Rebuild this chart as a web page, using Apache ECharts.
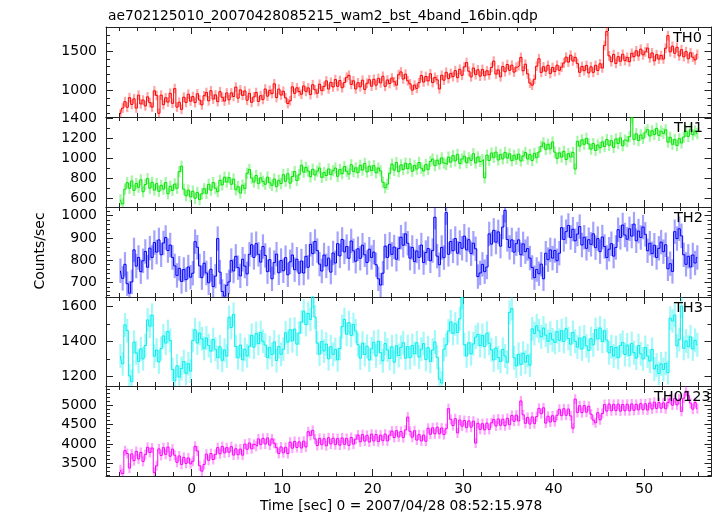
<!DOCTYPE html>
<html><head><meta charset="utf-8">
<script src="https://cdn.jsdelivr.net/npm/echarts@6/dist/echarts.min.js"></script>
<style>html,body{margin:0;padding:0;background:#fff}#c{width:717px;height:516px}</style>
</head><body><div id="c"></div>
<script>
// ---- data (0.25 s bins starting at t = -8 s) ----
const binStart = -8, binWidth = 0.25;
const panelNames = ['TH0', 'TH1', 'TH2', 'TH3', 'TH0123'];
const th0 = [
690,768,851,779,902,815,887,768,934,822,871,796,912,838,781,989,
931,702,934,812,901,846,958,829,1018,781,843,752,908,841,946,857,
916,838,952,871,809,927,968,862,991,884,937,851,978,906,859,962,
874,963,917,1037,896,1002,931,988,869,957,842,911,968,853,927,879,
1013,921,996,954,1079,903,1012,936,984,899,827,862,1041,957,1028,981,
946,1052,983,1027,941,1068,1003,958,1074,992,1046,1117,1013,1098,1039,1134,
1047,1121,1029,1096,1163,1189,1072,1118,1014,1093,1041,1126,1008,1087,1132,1049,
1138,1062,1149,1091,1176,1047,1129,1083,1154,1106,1063,1197,1232,1141,1203,1118,
1079,998,1063,1021,1094,1186,1102,1173,1117,1208,1095,1162,1131,1014,1189,1126,
1227,1146,1213,1172,1249,1158,1266,1189,1297,1352,1241,1168,1282,1197,1259,1178,
1264,1183,1246,1196,1289,1371,1205,1258,1169,1301,1234,1327,1252,1318,1229,1293,
1312,1418,1246,1331,1207,1089,1062,1138,1305,1401,1226,1298,1242,1317,1211,1289,
1236,1318,1253,1294,1346,1421,1358,1447,1372,1419,1338,1227,1302,1248,1315,1219,
1298,1226,1317,1251,1336,1283,1571,1752,1438,1362,1456,1341,1427,1369,1458,1378,
1419,1363,1471,1428,1503,1436,1524,1451,1489,1538,1412,1476,1374,1453,1397,1442,
1398,1536,1697,1489,1562,1471,1549,1437,1518,1426,1493,1402,1478,1421,1386,1457];
const th1 = [
588,547,693,758,702,774,681,749,712,786,667,739,798,703,761,684,
748,672,731,694,759,648,722,681,744,702,867,921,693,628,684,617,
673,602,661,589,648,697,652,741,683,759,702,668,781,736,812,764,
809,742,793,687,718,654,732,698,851,889,803,764,829,748,806,771,
742,813,756,731,794,718,782,749,837,771,846,752,819,868,779,836,
931,862,908,873,816,891,834,872,903,811,857,829,894,838,876,903,
821,889,847,918,871,842,936,868,905,857,931,883,949,864,921,878,
927,856,903,874,762,708,743,851,942,881,958,867,934,889,951,897,
946,871,929,893,958,902,874,937,889,968,992,927,981,943,1004,952,
938,1012,961,1027,974,1039,948,992,1021,956,1004,979,1046,953,1013,968,
987,806,1031,978,1052,1009,1061,983,1037,994,1058,1002,1044,976,1029,991,
1041,974,1022,1057,993,1036,978,1049,1006,1062,1117,1153,1088,1139,1094,1162,
1061,998,1054,1012,1069,987,1046,1013,1058,893,1168,1121,1183,1139,1197,1142,
1091,1146,1078,1132,1104,1163,1117,1186,1129,1175,1108,1192,1147,1203,1124,1181,
1166,1214,1402,1187,1243,1176,1232,1198,1259,1284,1221,1273,1236,1297,1228,1268,
1247,1283,1161,1208,1139,1187,1126,1194,1152,1211,1268,1217,1289,1234,1271,1246];
const th2 = [
752,718,781,694,651,702,846,773,812,748,797,839,768,854,812,879,
836,891,824,877,902,843,868,812,774,731,763,704,758,712,769,723,
741,883,858,774,721,786,742,698,759,681,728,897,746,659,638,687,
702,798,751,817,766,729,804,773,738,826,869,812,874,826,791,861,
821,748,802,716,789,827,743,798,752,811,734,792,823,757,804,741,
796,742,817,768,871,829,884,843,782,751,823,774,809,746,832,787,
874,819,893,837,861,808,886,842,795,851,808,867,824,789,849,812,
836,779,716,688,741,863,812,871,826,859,804,852,903,867,918,876,
809,857,793,841,812,868,789,834,852,797,843,993,818,779,857,811,
1014,826,884,842,897,831,879,853,908,846,892,829,876,851,726,742,
781,748,769,918,872,934,881,927,863,949,1024,893,857,891,836,874,
891,824,873,838,852,809,767,721,758,739,782,716,831,802,846,809,
843,797,831,946,893,928,956,902,939,887,917,951,868,903,853,892,
871,918,856,897,838,904,861,812,849,874,818,857,937,902,958,913,
894,941,908,962,887,931,902,949,916,842,876,829,867,812,853,881,
838,869,761,784,749,928,897,941,909,824,781,817,769,823,787,812];
const th3 = [
1318,1274,1496,1463,1205,1172,1397,1336,1287,1359,1302,1378,1524,1489,1551,1317,
1352,1284,1361,1433,1392,1458,1407,1241,1176,1262,1198,1247,1286,1219,1274,1232,
1407,1468,1392,1449,1416,1362,1421,1378,1346,1412,1357,1309,1371,1294,1352,1318,
1539,1481,1556,1372,1308,1381,1297,1356,1319,1374,1436,1368,1447,1389,1452,1402,
1381,1309,1366,1326,1398,1292,1373,1328,1357,1451,1397,1468,1405,1472,1386,1449,
1512,1574,1498,1561,1527,1658,1541,1392,1329,1401,1347,1386,1302,1371,1328,1356,
1297,1361,1486,1527,1442,1509,1436,1498,1461,1383,1306,1392,1327,1374,1296,1359,
1396,1318,1402,1337,1291,1389,1352,1304,1371,1283,1377,1321,1368,1394,1306,1372,
1309,1378,1331,1394,1312,1357,1389,1298,1366,1287,1352,1398,1311,1186,1164,1357,
1382,1461,1513,1447,1502,1452,1531,1652,1383,1318,1394,1331,1387,1426,1441,1378,
1436,1372,1448,1391,1353,1296,1364,1309,1287,1356,1318,1282,1567,1589,1308,1262,
1328,1271,1334,1283,1321,1266,1473,1446,1491,1462,1427,1478,1437,1402,1448,1411,
1396,1457,1408,1463,1401,1474,1418,1386,1453,1402,1369,1421,1358,1428,1376,1349,
1417,1382,1469,1416,1478,1401,1462,1409,1336,1372,1318,1367,1309,1378,1396,1327,
1381,1322,1389,1337,1306,1378,1331,1302,1367,1318,1289,1356,1244,1267,1218,1273,
1241,1276,1223,1534,1518,1552,1376,1412,1603,1362,1404,1371,1428,1358,1407,1382];
const th0123 = [
3331,3236,3824,3752,3378,3741,3569,3806,3612,3779,3548,3724,3912,3778,3893,3262,
3436,3871,3702,3902,3731,3917,3682,3864,3708,3524,3689,3471,3652,3498,3637,3489,
3552,3937,3816,3438,3297,3471,3736,3576,3751,3598,3728,3903,3742,3931,3768,3902,
3786,3928,3712,3874,3721,3866,3709,3992,3861,4023,3874,3987,3936,4128,3981,4142,
3997,4152,3968,4127,4014,3902,3754,3921,3768,3912,3751,4043,3889,4062,3906,4051,
3893,4068,3921,4312,4219,4347,4128,3957,4142,3979,4131,3952,4158,3996,4147,3978,
4136,3968,4152,3987,4139,3961,4164,3993,4121,4227,4054,4238,4071,4219,4048,4251,
4073,4239,4058,4226,4082,4251,4076,4224,4327,4163,4339,4178,4321,4161,4358,4689,
4323,4172,4337,4098,4238,4074,4226,4067,4402,4246,4413,4257,4428,4259,4407,4238,
4391,4907,4632,4471,4647,4283,4614,4456,4601,4418,4591,4429,4584,4021,4531,4372,
4519,4361,4532,4374,4541,4624,4461,4641,4478,4633,4466,4657,4493,4731,4581,4739,
4589,5104,4748,4529,4681,4511,4692,4521,4701,4914,4776,4928,4534,4711,4561,4724,
4571,4736,4889,4726,4903,4737,4896,4719,4402,5152,4808,4981,4803,4985,4814,4969,
4764,4611,4542,4801,4619,4782,5011,4843,5024,4851,5016,4858,5021,4843,5012,4854,
5019,4851,5027,4863,5016,4875,5034,4878,5031,4869,5052,4898,5071,4912,5062,4918,
5054,4903,5066,5156,4996,5169,5004,5152,4838,5174,5352,5241,5049,4894,5064,4906];
// typical 1-sigma error per band (counts/sec)
const bandErrors = [62, 56, 55, 68, 128];

// ---- axes / ticks ----
const xRange = [-9.47, 57.44];
const xMajorTicks = [0, 10, 20, 30, 40, 50];
const xMinorTicks = [-8,-6,-4,-2,2,4,6,8,12,14,16,18,22,24,26,28,32,34,36,38,42,44,46,48,52,54,56];
const yRanges = [[654, 1808], [516, 1410], [634, 1039], [1147, 1655], [3173, 5489]];
const th0Major = [1000, 1500];
const th0Minor = [700, 800, 900, 1100, 1200, 1300, 1400, 1600, 1700, 1800];
const th1Major = [600, 800, 1000, 1200, 1400];
const th1Minor = [700, 900, 1100, 1300];
const th2Major = [700, 800, 900, 1000];
const th2Minor = [640,660,680,720,740,760,780,820,840,860,880,920,940,960,980,1020];
const th3Major = [1200, 1400, 1600];
const th3Minor = [1300, 1500];
const th0123Major = [3500, 4000, 4500, 5000];
const th0123Minor = [3200,3300,3400,3600,3700,3800,3900,4100,4200,4300,4400,4600,4700,4800,4900,5100,5200,5300,5400];

const titleText = 'ae702125010_20070428085215_wam2_bst_4band_16bin.qdp';
const xLabelText = 'Time [sec] 0 = 2007/04/28 08:52:15.978';
const yLabelText = 'Counts/sec';

// ---- build ----
const FONT = '"DejaVu Sans", sans-serif';
const AX = '#222';
const panels = [
  {values: th0, major: th0Major, minor: th0Minor, color: '#ff0000'},
  {values: th1, major: th1Major, minor: th1Minor, color: '#00e600'},
  {values: th2, major: th2Major, minor: th2Minor, color: '#0000ff'},
  {values: th3, major: th3Major, minor: th3Minor, color: '#00eeee'},
  {values: th0123, major: th0123Major, minor: th0123Minor, color: '#ff00ff'}
];
const gridTops = [27, 117, 207, 297, 386];
const gridHeights = [90, 90, 90, 89, 90];
const labelX = [673, 674, 674, 674, 654];

const grid = [], xAxis = [], yAxis = [], series = [], graphic = [];
const times = th0.map((_, k) => binStart + binWidth * (k + 0.5));

function mkAxis(kind, gi, pos, range, ticks, len, showLine, labels) {
  return {
    type: 'value', gridIndex: gi, position: pos, min: range[0], max: range[1],
    splitLine: {show: false},
    axisLine: {show: showLine, onZero: false, lineStyle: {color: AX, width: 1}},
    axisTick: {show: true, inside: true, length: len, customValues: ticks, lineStyle: {color: AX, width: 1}},
    axisLabel: labels ? {show: true, customValues: ticks, formatter: v => String(v), color: '#000',
      fontFamily: FONT, fontSize: 14, margin: kind === 'x' ? 6 : 9} : {show: false}
  };
}

panels.forEach((p, i) => {
  grid.push({left: 106, width: 605.5, top: gridTops[i], height: gridHeights[i], containLabel: false, outerBoundsMode: 'none'});
  const last = i === panels.length - 1;
  xAxis.push(mkAxis('x', i, 'bottom', xRange, xMajorTicks, 7, true, last));
  xAxis.push(mkAxis('x', i, 'bottom', xRange, xMinorTicks, 4, false, false));
  xAxis.push(mkAxis('x', i, 'top', xRange, xMajorTicks, 7, true, false));
  xAxis.push(mkAxis('x', i, 'top', xRange, xMinorTicks, 4, false, false));
  yAxis.push(mkAxis('y', i, 'left', yRanges[i], p.major, 7, true, true));
  yAxis.push(mkAxis('y', i, 'left', yRanges[i], p.minor, 4, false, false));
  yAxis.push(mkAxis('y', i, 'right', yRanges[i], p.major, 7, true, false));
  yAxis.push(mkAxis('y', i, 'right', yRanges[i], p.minor, 4, false, false));

  const err = bandErrors[i];
  const color = p.color;
  series.push({
    type: 'custom', xAxisIndex: 4 * i, yAxisIndex: 4 * i, z: 2, animation: false,
    data: p.values.map((v, k) => [times[k], v, err]),
    encode: {x: 0, y: 1},
    renderItem: (params, api) => {
      const t = api.value(0), v = api.value(1), e = api.value(2);
      const a = api.coord([t, v - e]), b = api.coord([t, v + e]);
      const cs = params.coordSys;
      const clamp = y => Math.min(Math.max(y, cs.y), cs.y + cs.height);
      return {type: 'line', shape: {x1: a[0], y1: clamp(a[1]), x2: b[0], y2: clamp(b[1])},
        style: {stroke: color, lineWidth: 2.2, opacity: 0.36}};
    }
  });
  series.push({
    type: 'line', xAxisIndex: 4 * i, yAxisIndex: 4 * i, z: 3, animation: false,
    step: 'middle', showSymbol: false, symbol: 'none', sampling: 'none',
    data: p.values.map((v, k) => [times[k], v]),
    lineStyle: {color: color, width: 1}, itemStyle: {color: color}
  });
  graphic.push({type: 'text', x: labelX[i], y: gridTops[i] + 11, z: 10,
    style: {text: panelNames[i], font: '14.5px ' + FONT, fill: '#000',
      align: 'left', textAlign: 'left', verticalAlign: 'middle', textVerticalAlign: 'middle'}});
});

graphic.push({type: 'text', x: 108, y: 16,
  style: {text: titleText, font: '13.8px ' + FONT, fill: '#000', align: 'left', textAlign: 'left', verticalAlign: 'middle', textVerticalAlign: 'middle'}});
graphic.push({type: 'text', x: 260, y: 506,
  style: {text: xLabelText, font: '13.8px ' + FONT, fill: '#000', align: 'left', textAlign: 'left', verticalAlign: 'middle', textVerticalAlign: 'middle'}});
graphic.push({type: 'text', x: 40, y: 251, rotation: Math.PI / 2,
  style: {text: yLabelText, font: '14px ' + FONT, fill: '#000', align: 'center', textAlign: 'center', verticalAlign: 'middle', textVerticalAlign: 'middle'}});

const chart = echarts.init(document.getElementById('c'), null, {renderer: 'canvas', width: 717, height: 516});
chart.setOption({
  backgroundColor: '#fff', animation: false,
  grid, xAxis, yAxis, series, graphic
});
</script></body></html>
